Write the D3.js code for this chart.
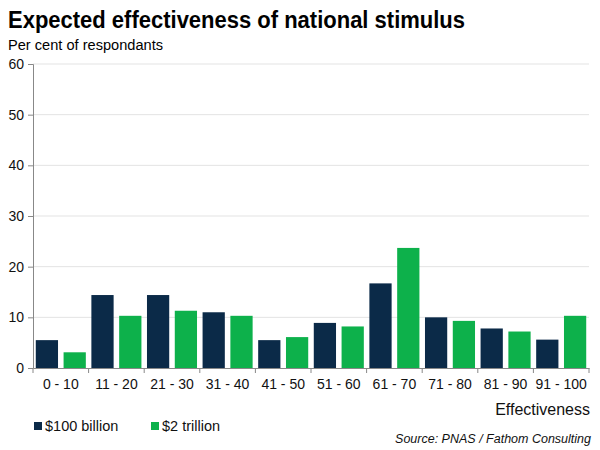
<!DOCTYPE html>
<html><head><meta charset="utf-8">
<script src="https://cdn.jsdelivr.net/npm/d3@7"></script>
<style>body{margin:0;background:#fff}svg{display:block;font-family:"Liberation Sans",Arial,sans-serif}</style>
</head><body><svg id="c" width="600" height="450"></svg>
<script>
const categories = ["0 - 10","11 - 20","21 - 30","31 - 40","41 - 50","51 - 60","61 - 70","71 - 80","81 - 90","91 - 100"];
const seriesNames = ["$100 billion","$2 trillion"];
const billion100 = [5.5,14.4,14.4,11.0,5.5,8.9,16.7,10.0,7.8,5.6];
const trillion2 = [3.1,10.3,11.3,10.3,6.1,8.2,23.7,9.3,7.2,10.3];
const yTicks = [0,10,20,30,40,50,60];
const colors = ["#0b2a48","#0db14b"];

const svg = d3.select("#c");
const L = 33, R = 589, T = 64, B = 368;
const x = d3.scaleBand().domain(categories).range([L,R]);
const x1 = d3.scaleBand().domain(seriesNames).range([0,x.bandwidth()]).paddingInner(0.2).paddingOuter(0.1);
const y = d3.scaleLinear().domain([0,60]).range([B,T]);

svg.append("text").attr("x",8).attr("y",28).attr("font-size",23).attr("font-weight","bold").attr("fill","#000")
  .attr("textLength",457).attr("lengthAdjust","spacingAndGlyphs").text("Expected effectiveness of national stimulus");
svg.append("text").attr("x",8).attr("y",50).attr("font-size",15.5).attr("fill","#000")
  .attr("textLength",155).attr("lengthAdjust","spacingAndGlyphs").text("Per cent of respondants");

// gridlines
svg.append("g").selectAll("line").data(yTicks.filter(d=>d>0)).join("line")
  .attr("x1",L).attr("x2",R).attr("y1",d=>y(d)).attr("y2",d=>y(d)).attr("stroke","#e3e3e3").attr("stroke-width",1);

const data = [billion100, trillion2];
const g = svg.append("g");
categories.forEach((c,i)=>{
  seriesNames.forEach((s,j)=>{
    g.append("rect").attr("x",x(c)+x1(s)).attr("width",x1.bandwidth())
      .attr("y",y(data[j][i])).attr("height",B-y(data[j][i])).attr("fill",colors[j]);
  });
});

const ya = svg.append("g").attr("transform",`translate(${L},0)`).call(d3.axisLeft(y).tickValues(yTicks).tickSize(5).tickPadding(4));
ya.select(".domain").attr("stroke","#888");
ya.selectAll(".tick line").attr("stroke","#888");
ya.selectAll("text").attr("font-size",14).attr("fill","#111").attr("font-family","Liberation Sans, Arial, sans-serif");

const xa = svg.append("g").attr("transform",`translate(0,${B})`).call(d3.axisBottom(x).tickSize(0).tickPadding(11));
xa.select(".domain").attr("stroke","#888");
xa.selectAll("text").attr("font-size",14).attr("fill","#111").attr("font-family","Liberation Sans, Arial, sans-serif");
// category boundary ticks
svg.append("g").selectAll("line").data(d3.range(categories.length+1)).join("line")
  .attr("x1",i=>L+i*x.step()).attr("x2",i=>L+i*x.step()).attr("y1",B).attr("y2",B+5).attr("stroke","#888");

svg.append("text").attr("x",R+1).attr("y",415).attr("text-anchor","end").attr("font-size",16).attr("fill","#111").text("Effectiveness");

const lg = svg.append("g");
const lx = [34,151];
seriesNames.forEach((s,j)=>{
  lg.append("rect").attr("x",lx[j]).attr("y",422).attr("width",8).attr("height",8).attr("fill",colors[j]);
  lg.append("text").attr("x",lx[j]+11).attr("y",431).attr("font-size",14.5).attr("fill","#111").text(s);
});

svg.append("text").attr("x",R+2).attr("y",443).attr("text-anchor","end").attr("font-size",12.5).attr("font-style","italic").attr("fill","#111").text("Source: PNAS / Fathom Consulting");
</script></body></html>
